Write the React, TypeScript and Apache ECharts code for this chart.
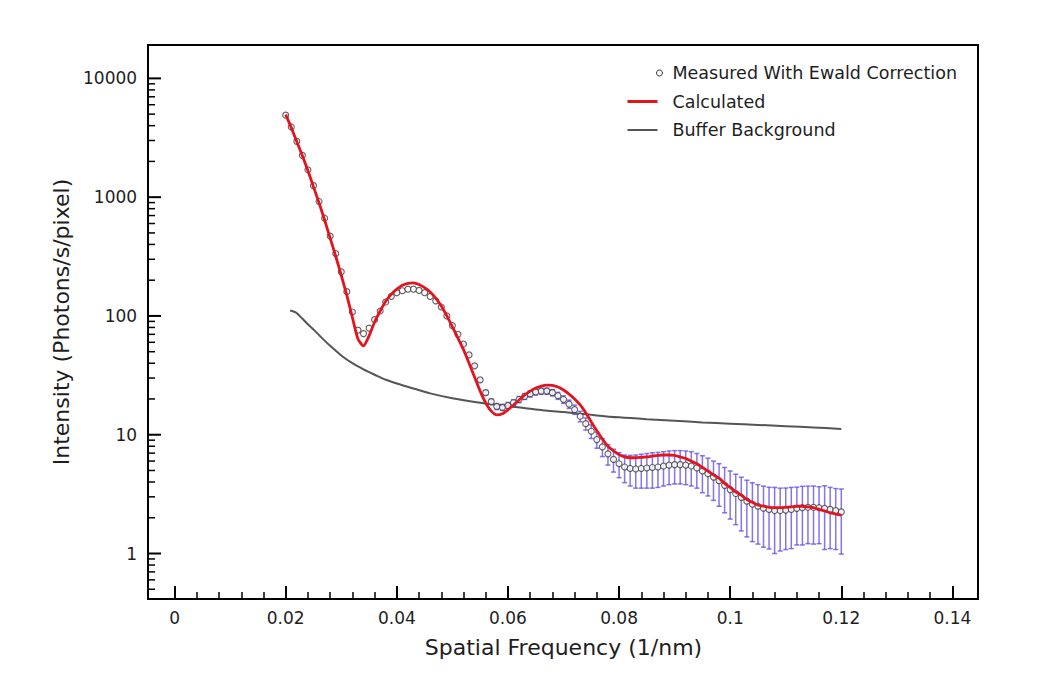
import React, { useEffect, useRef } from "react";
import * as echarts from "echarts";

// Spatial frequency sample positions (1/nm)
const FREQ = [
  0.020, 0.021, 0.022, 0.023, 0.024, 0.025, 0.026, 0.027, 0.028, 0.029,
  0.030, 0.031, 0.032, 0.033, 0.034, 0.035, 0.036, 0.037, 0.038, 0.039,
  0.040, 0.041, 0.042, 0.043, 0.044, 0.045, 0.046, 0.047, 0.048, 0.049,
  0.050, 0.051, 0.052, 0.053, 0.054, 0.055, 0.056, 0.057, 0.058, 0.059,
  0.060, 0.061, 0.062, 0.063, 0.064, 0.065, 0.066, 0.067, 0.068, 0.069,
  0.070, 0.071, 0.072, 0.073, 0.074, 0.075, 0.076, 0.077, 0.078, 0.079,
  0.080, 0.081, 0.082, 0.083, 0.084, 0.085, 0.086, 0.087, 0.088, 0.089,
  0.090, 0.091, 0.092, 0.093, 0.094, 0.095, 0.096, 0.097, 0.098, 0.099,
  0.100, 0.101, 0.102, 0.103, 0.104, 0.105, 0.106, 0.107, 0.108, 0.109,
  0.110, 0.111, 0.112, 0.113, 0.114, 0.115, 0.116, 0.117, 0.118, 0.119,
  0.120,
];

// Measured With Ewald Correction
const MEASURED = [
  4900, 3900, 2950, 2250, 1700, 1250, 920, 665, 470, 335,
  235, 160, 108, 76, 71, 79, 93, 110, 131, 146,
  157, 163, 168, 168, 164, 157, 146, 134, 119, 100,
  83, 70, 58, 47, 38, 29, 22.6, 19, 17.3, 17,
  17.6, 18.6, 19.8, 21, 22.1, 22.9, 23.3, 23.3, 22.6, 21.3,
  19.8, 18.1, 16.3, 14.3, 12.4, 10.7, 9.1, 7.9, 6.9, 6.2,
  5.7, 5.35, 5.2, 5.15, 5.2, 5.25, 5.3, 5.35, 5.45, 5.55,
  5.6, 5.6, 5.55, 5.45, 5.25, 4.95, 4.7, 4.4, 4.1, 3.75,
  3.45, 3.2, 2.97, 2.76, 2.6, 2.5, 2.41, 2.35, 2.3, 2.3,
  2.32, 2.35, 2.4, 2.43, 2.45, 2.45, 2.43, 2.4, 2.35, 2.3,
  2.24,
];

// Error (absolute, +/-) of the measured points; 0 = no visible bar
const ERRORS = [
  0, 0, 0, 0, 0, 0, 0, 0, 0, 0,
  0, 0, 0, 0, 0, 0, 0, 0, 0, 0,
  0, 0, 0, 0, 0, 0, 0, 0, 0, 0,
  0, 0, 1.0, 1.0, 1.0, 1.0, 1.0, 1.0, 1.0, 1.0,
  1.1, 1.1, 1.2, 1.2, 1.3, 1.3, 1.35, 1.4, 1.4, 1.45,
  1.45, 1.45, 1.45, 1.45, 1.45, 1.4, 1.4, 1.35, 1.35, 1.35,
  1.35, 1.4, 1.5, 1.6, 1.65, 1.7, 1.75, 1.75, 1.75, 1.75,
  1.75, 1.75, 1.75, 1.75, 1.7, 1.7, 1.65, 1.6, 1.6, 1.55,
  1.5, 1.45, 1.42, 1.38, 1.34, 1.3, 1.28, 1.26, 1.3, 1.25,
  1.24, 1.25, 1.22, 1.25, 1.24, 1.25, 1.22, 1.32, 1.25, 1.22,
  1.25,
];

// Calculated
const CALCULATED = [
  4960, 3850, 2930, 2230, 1670, 1220, 895, 642, 452, 318,
  220, 149, 97, 64, 56, 68, 89, 110, 133, 152,
  168, 181, 188, 190, 184, 173, 159, 141, 121, 100,
  81, 65, 52, 40, 30.5, 23.3, 18.5, 15.8, 14.7, 15,
  16.2, 17.8, 19.6, 21.6, 23.3, 24.7, 25.7, 26.2, 26, 25.2,
  23.8, 22, 20, 17.8, 15.3, 12.8, 10.8, 9.2, 8, 7.3,
  6.8, 6.5, 6.4, 6.4, 6.45, 6.5, 6.6, 6.7, 6.75, 6.75,
  6.7, 6.5, 6.3, 6, 5.7, 5.3, 4.95, 4.6, 4.3, 3.9,
  3.6, 3.3, 3.1, 2.85, 2.7, 2.56, 2.5, 2.45, 2.43, 2.43,
  2.45, 2.47, 2.5, 2.5, 2.47, 2.43, 2.35, 2.28, 2.2, 2.15,
  2.1,
];

// Buffer Background
const BG_FREQ = [
  0.0208, 0.0218, 0.023, 0.024, 0.025, 0.026, 0.027, 0.028, 0.030, 0.032,
  0.034, 0.036, 0.038, 0.040, 0.043, 0.046, 0.050, 0.055, 0.060, 0.065,
  0.070, 0.075, 0.080, 0.085, 0.090, 0.095, 0.100, 0.105, 0.110, 0.115,
  0.120,
];
const BG_VALUES = [
  111, 107, 95, 85, 77, 69, 62, 56, 46.5, 40,
  35.5, 32, 29, 27, 24.5, 22.3, 20.3, 18.6, 17.4, 16.3,
  15.5, 14.7, 14.0, 13.5, 13.1, 12.7, 12.4, 12.1, 11.8, 11.5,
  11.2,
];

const LEGEND_LABELS = [
  "Measured With Ewald Correction",
  "Calculated",
  "Buffer Background",
];

const X_MIN = 0;
const X_MAX = 0.14;
const X_INTERVAL = 0.02;
const Y_MIN = 0.414;
const Y_MAX = 19100;
const LOG_MAJOR = [1, 10, 100, 1000, 10000];
const LOG_MINOR_MULT = [2, 3, 4, 5, 6, 7, 8, 9];
const LOG_DECADES = [0.1, 1, 10, 100, 1000, 10000];

const FONT = "DejaVu Sans";
const TEXT_COLOR = "#1e1e1e";
const RED = "#e3141e";
const GRAY = "#555555";
const BAR_COLOR = "rgba(98, 80, 226, 0.78)";

const GRID_LEFT = 174.6;
const GRID_RIGHT = 97.6;
const GRID_TOP = 45;
const GRID_BOTTOM = 90;
const FRAME_LEFT = 148;
const FRAME_RIGHT = 978;

export default function App() {
  const ref = useRef<HTMLDivElement>(null);

  useEffect(() => {
    if (!ref.current) return;
    const chart = echarts.init(ref.current, null, { renderer: "svg" });

    const measuredData = FREQ.map((f, i) => [f, MEASURED[i]]);
    const calcData = FREQ.map((f, i) => [f, CALCULATED[i]]);
    const bgData = BG_FREQ.map((f, i) => [f, BG_VALUES[i]]);
    const errData = FREQ.map((f, i) => [f, MEASURED[i], ERRORS[i]]).filter(
      (d) => d[2] > 0
    );
    // y-axis ticks (major = 1, minor = 0) placed through the log scale
    const yTicks: number[][] = LOG_MAJOR.map((v) => [X_MIN, v, 1]);
    LOG_DECADES.forEach((d) =>
      LOG_MINOR_MULT.forEach((m) => {
        const v = d * m;
        if (v > Y_MIN && v < Y_MAX) yTicks.push([X_MIN, v, 0]);
      })
    );

    const legendText = (i: number, y: number) => ({
      type: "text",
      x: 45,
      y,
      style: {
        text: LEGEND_LABELS[i],
        font: `17.5px "${FONT}"`,
        fill: TEXT_COLOR,
        verticalAlign: "middle",
      },
    });

    const option: any = {
      animation: false,
      backgroundColor: "#ffffff",
      textStyle: { fontFamily: FONT },
      grid: {
        left: GRID_LEFT,
        right: GRID_RIGHT,
        top: GRID_TOP,
        bottom: GRID_BOTTOM,
        containLabel: false,
      },
      xAxis: {
        type: "value",
        min: X_MIN,
        max: X_MAX,
        interval: X_INTERVAL,
        name: "Spatial Frequency (1/nm)",
        nameLocation: "middle",
        nameGap: 37,
        nameTextStyle: { fontFamily: FONT, fontSize: 22, color: TEXT_COLOR },
        axisLine: { show: false },
        axisTick: {
          show: true,
          inside: true,
          length: 13,
          lineStyle: { color: "#000", width: 2 },
        },
        minorTick: {
          show: true,
          splitNumber: 5,
          length: 7,
          lineStyle: { color: "#000", width: 1.5 },
        },
        splitLine: { show: false },
        minorSplitLine: { show: false },
        axisLabel: {
          fontFamily: FONT,
          fontSize: 17,
          color: TEXT_COLOR,
          margin: 10,
          formatter: (v: number) => String(+v.toFixed(3)),
        },
      },
      yAxis: {
        type: "log",
        logBase: 10,
        min: Y_MIN,
        max: Y_MAX,
        name: "Intensity (Photons/s/pixel)",
        nameLocation: "middle",
        nameGap: 102,
        nameRotate: 90,
        nameTextStyle: { fontFamily: FONT, fontSize: 22, color: TEXT_COLOR },
        axisLine: { show: false },
        axisTick: { show: false },
        splitLine: { show: false },
        axisLabel: {
          fontFamily: FONT,
          fontSize: 17,
          color: TEXT_COLOR,
          margin: 37.5,
          showMinLabel: false,
          showMaxLabel: false,
          formatter: (v: number) =>
            v >= 1 ? String(Math.round(v)) : String(+v.toFixed(2)),
        },
      },
      graphic: [
        {
          type: "rect",
          z: 100,
          silent: true,
          shape: {
            x: FRAME_LEFT,
            y: GRID_TOP,
            width: FRAME_RIGHT - FRAME_LEFT,
            height: 689 - GRID_BOTTOM - GRID_TOP,
          },
          style: { fill: "none", stroke: "#000", lineWidth: 2 },
        },
        {
          type: "group",
          left: 625,
          top: 64,
          children: [
            {
              type: "circle",
              shape: { cx: 32, cy: 10, r: 3 },
              style: { fill: "#fff", stroke: "#333", lineWidth: 1 },
            },
            legendText(0, 10),
            {
              type: "line",
              shape: { x1: 0, y1: 38.5, x2: 30, y2: 38.5 },
              style: { stroke: RED, lineWidth: 3 },
            },
            legendText(1, 38.5),
            {
              type: "line",
              shape: { x1: 0, y1: 67, x2: 30, y2: 67 },
              style: { stroke: GRAY, lineWidth: 2 },
            },
            legendText(2, 67),
          ],
        },
      ],
      series: [
        {
          name: "Log ticks",
          type: "custom",
          silent: true,
          clip: false,
          z: 1,
          encode: { x: 0, y: 1 },
          data: yTicks,
          renderItem: (params: any, api: any) => {
            const p = api.coord([api.value(0), api.value(1)]);
            const major = api.value(2) === 1;
            const x0 = FRAME_LEFT;
            return {
              type: "line",
              shape: { x1: x0, y1: p[1], x2: x0 + (major ? 13 : 7), y2: p[1] },
              style: { stroke: "#000", lineWidth: major ? 2 : 1.5 },
            };
          },
        },
        {
          name: LEGEND_LABELS[2],
          type: "line",
          data: bgData,
          smooth: 0.3,
          showSymbol: false,
          z: 2,
          lineStyle: { color: GRAY, width: 2 },
        },
        {
          name: "Error",
          type: "custom",
          silent: true,
          z: 3,
          encode: { x: 0, y: 1 },
          data: errData,
          renderItem: (params: any, api: any) => {
            const x = api.value(0);
            const y = api.value(1);
            const e = api.value(2);
            const top = api.coord([x, y + e]);
            const bot = api.coord([x, y - e]);
            const w = 2.5;
            const st = { stroke: BAR_COLOR, lineWidth: 1.5 };
            return {
              type: "group",
              children: [
                {
                  type: "line",
                  shape: { x1: top[0], y1: top[1], x2: bot[0], y2: bot[1] },
                  style: st,
                },
                {
                  type: "line",
                  shape: { x1: top[0] - w, y1: top[1], x2: top[0] + w, y2: top[1] },
                  style: st,
                },
                {
                  type: "line",
                  shape: { x1: bot[0] - w, y1: bot[1], x2: bot[0] + w, y2: bot[1] },
                  style: st,
                },
              ],
            };
          },
        },
        {
          name: LEGEND_LABELS[0],
          type: "scatter",
          data: measuredData,
          symbol: "circle",
          symbolSize: 6,
          z: 4,
          itemStyle: { color: "#ffffff", borderColor: "#3a3a3a", borderWidth: 1.1 },
        },
        {
          name: LEGEND_LABELS[1],
          type: "line",
          data: calcData,
          smooth: 0.2,
          showSymbol: false,
          z: 5,
          lineStyle: { color: RED, width: 2.8 },
        },
      ],
    };

    chart.setOption(option);
    return () => chart.dispose();
  }, []);

  return (
    <div
      ref={ref}
      style={{
        position: "fixed",
        left: 0,
        top: 0,
        width: 1050,
        height: 689,
        background: "#fff",
      }}
    />
  );
}
